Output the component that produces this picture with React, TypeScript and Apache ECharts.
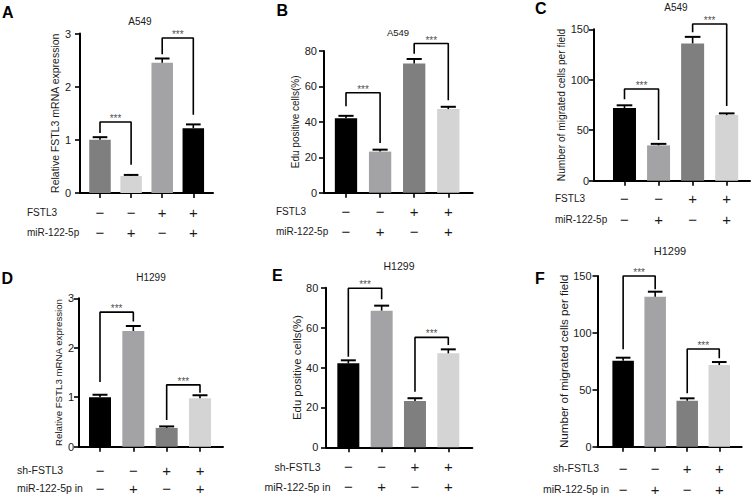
import React, { useEffect, useRef } from "react";
import * as echarts from "echarts";

// ---------- DATA ----------
const rowTopA = ["−", "−", "+", "+"];
const rowBottomA = ["−", "+", "−", "+"];
const rowNamesABC = ["FSTL3", "miR-122-5p"];
const rowNamesDEF = ["sh-FSTL3", "miR-122-5p in"];

const titlesTop = ["A549", "A549", "A549"];
const titlesBottom = ["H1299", "H1299", "H1299"];
const panelLetters = ["A", "B", "C", "D", "E", "F"];

const yNameMRNA = "Relative FSTL3 mRNA expression";
const yNameEdu = "Edu positive cells(%)";
const yNameMig = "Number of migrated cells per field";

// y-axis ranges [max, interval]
const yRangeA = [3, 1];
const yRangeB = [80, 20];
const yRangeC = [150, 50];
const yRangeD = [3, 1];
const yRangeE = [80, 20];
const yRangeF = [150, 50];

// bar means
const valuesA = [1.0, 0.32, 2.45, 1.22];
const valuesB = [42, 23.2, 73, 47.2];
const valuesC = [72, 35, 136, 65];
const valuesD = [1.0, 2.34, 0.38, 0.98];
const valuesE = [42.1, 68.5, 23.2, 47.1];
const valuesF = [75.6, 131.8, 40.4, 71.8];

// upper error (SD)
const errorsA = [0.05, 0.02, 0.08, 0.07];
const errorsB = [1.4, 1.1, 2.5, 1.3];
const errorsC = [2.7, 1.5, 6.5, 1.7];
const errorsD = [0.05, 0.1, 0.03, 0.06];
const errorsE = [1.5, 2.5, 1.4, 2.0];
const errorsF = [2.6, 4.4, 2.1, 2.6];

// significance brackets: [fromBar, toBar, top, leftLegEnd, rightLegEnd]
const bracketsA = [[0, 1, 1.335, 1.13, 0.53], [2, 3, 2.915, 2.61, 1.47]];
const bracketsB = [[0, 1, 56.4, 48.8, 28], [2, 3, 84.2, 78.5, 52.2]];
const bracketsC = [[0, 1, 90.8, 80.6, 40.3], [2, 3, 155.2, 147, 74]];
const bracketsD = [[0, 1, 2.72, 1.31, 2.53], [2, 3, 1.25, 0.54, 1.09]];
const bracketsE = [[0, 1, 79.7, 45.4, 74.2], [2, 3, 55.1, 27.9, 51.3]];
const bracketsF = [[0, 1, 150, 85.6, 138.3], [2, 3, 85.9, 46.9, 77.7]];
const sigLabel = "***";

// bar colours
const coloursA = ["#7f7f7f", "#d4d4d4", "#a3a3a5", "#000000"];
const coloursRest = ["#000000", "#a3a3a5", "#7f7f7f", "#d4d4d4"];

// ---------- LAYOUT ----------
const FONT = '"Liberation Sans", Arial, Helvetica, sans-serif';
const INK = "#1a1a1a";

type Panel = {
  values: number[]; errors: number[]; brackets: number[][]; colours: string[];
  yRange: number[]; yName: string; rowNames: string[]; title: string; letter: string;
  grid: { left: number; top: number; width: number; height: number };
  xMin: number; xMax: number; barWidth: number;
  yNameSize: number; yNameGap: number; yLabelMargin: number;
  xLabelMargin: number; rowLineHeight: number;
  rowLabelX: number; rowLabelAlign: string; rowLabelY: number[]; rowLabelSize: number;
  titlePos: number[]; titleSize: number; letterPos: number[];
};

const panels: Panel[] = [
  {
    values: valuesA, errors: errorsA, brackets: bracketsA, colours: coloursA, yRange: yRangeA,
    yName: yNameMRNA, rowNames: rowNamesABC, title: titlesTop[0], letter: panelLetters[0],
    grid: { left: 80, top: 33.5, width: 133, height: 159.5 }, xMin: -0.643, xMax: 3.633, barWidth: 21.5,
    yNameSize: 10.5, yNameGap: 18, yLabelMargin: 9, xLabelMargin: 9, rowLineHeight: 20,
    rowLabelX: 27, rowLabelAlign: "left", rowLabelY: [212, 232], rowLabelSize: 10,
    titlePos: [140, 21], titleSize: 10, letterPos: [2, 12.5],
  },
  {
    values: valuesB, errors: errorsB, brackets: bracketsB, colours: coloursRest, yRange: yRangeB,
    yName: yNameEdu, rowNames: rowNamesABC, title: titlesTop[1], letter: panelLetters[1],
    grid: { left: 324, top: 51, width: 148.7, height: 141.7 }, xMin: -0.645, xMax: 3.716, barWidth: 22.3,
    yNameSize: 10, yNameGap: 21, yLabelMargin: 7, xLabelMargin: 9, rowLineHeight: 20,
    rowLabelX: 276, rowLabelAlign: "left", rowLabelY: [211.7, 231.7], rowLabelSize: 10,
    titlePos: [398, 32], titleSize: 9.5, letterPos: [276.5, 10],
  },
  {
    values: valuesC, errors: errorsC, brackets: bracketsC, colours: coloursRest, yRange: yRangeC,
    yName: yNameMig, rowNames: rowNamesABC, title: titlesTop[2], letter: panelLetters[2],
    grid: { left: 594, top: 29.3, width: 156, height: 151.4 }, xMin: -0.895, xMax: 3.684, barWidth: 23,
    yNameSize: 10.2, yNameGap: 21, yLabelMargin: 5, xLabelMargin: 6.8, rowLineHeight: 21,
    rowLabelX: 555, rowLabelAlign: "left", rowLabelY: [198, 219], rowLabelSize: 10,
    titlePos: [676, 7.5], titleSize: 10, letterPos: [535, 8.7],
  },
  {
    values: valuesD, errors: errorsD, brackets: bracketsD, colours: coloursRest, yRange: yRangeD,
    yName: yNameMRNA, rowNames: rowNamesDEF, title: titlesBottom[0], letter: panelLetters[3],
    grid: { left: 79, top: 298.3, width: 144, height: 148.4 }, xMin: -0.63, xMax: 3.69, barWidth: 22,
    yNameSize: 9.7, yNameGap: 15.5, yLabelMargin: 5, xLabelMargin: 14.3, rowLineHeight: 18,
    rowLabelX: 17, rowLabelAlign: "left", rowLabelY: [470, 488], rowLabelSize: 10.5,
    titlePos: [151, 277], titleSize: 10, letterPos: [1.5, 278],
  },
  {
    values: valuesE, errors: errorsE, brackets: bracketsE, colours: coloursRest, yRange: yRangeE,
    yName: yNameEdu, rowNames: rowNamesDEF, title: titlesBottom[1], letter: panelLetters[4],
    grid: { left: 326, top: 287.7, width: 146.3, height: 159.6 }, xMin: -0.67, xMax: 3.72, barWidth: 22,
    yNameSize: 11.3, yNameGap: 24, yLabelMargin: 7.7, xLabelMargin: 9.4, rowLineHeight: 20,
    rowLabelX: 297.5, rowLabelAlign: "center", rowLabelY: [466.7, 486.7], rowLabelSize: 10.5,
    titlePos: [399, 266], titleSize: 10.5, letterPos: [272, 275.5],
  },
  {
    values: valuesF, errors: errorsF, brackets: bracketsF, colours: coloursRest, yRange: yRangeF,
    yName: yNameMig, rowNames: rowNamesDEF, title: titlesBottom[2], letter: panelLetters[5],
    grid: { left: 597.5, top: 276, width: 144.2, height: 170.7 }, xMin: -0.8, xMax: 3.7, barWidth: 21.5,
    yNameSize: 11.6, yNameGap: 28, yLabelMargin: 6, xLabelMargin: 11.1, rowLineHeight: 21,
    rowLabelX: 576, rowLabelAlign: "center", rowLabelY: [468.3, 489.3], rowLabelSize: 10.5,
    titlePos: [670, 250.5], titleSize: 11, letterPos: [535, 278],
  },
];

function buildOption() {
  const grid: any[] = [];
  const xAxis: any[] = [];
  const yAxis: any[] = [];
  const series: any[] = [];
  const graphic: any[] = [];

  panels.forEach((p, i) => {
    grid.push({ ...p.grid, containLabel: false, outerBoundsMode: "none" });
    const positions = p.values.map((_, j) => j);

    xAxis.push({
      type: "value", gridIndex: i, min: p.xMin, max: p.xMax,
      splitLine: { show: false },
      axisLine: { show: true, onZero: false, lineStyle: { color: "#000", width: 2 } },
      axisTick: { show: true, customValues: positions, length: 5, lineStyle: { color: "#000", width: 1.6 } },
      axisLabel: {
        show: true, customValues: positions, margin: p.xLabelMargin, color: INK,
        formatter: (v: number) => {
          const k = Math.round(v);
          return `{s|${rowTopA[k]}}\n{s|${rowBottomA[k]}}`;
        },
        rich: { s: { fontSize: 15, lineHeight: p.rowLineHeight, color: INK, fontFamily: FONT } },
      },
    });

    yAxis.push({
      type: "value", gridIndex: i, min: 0, max: p.yRange[0], interval: p.yRange[1],
      name: p.yName, nameLocation: "middle", nameGap: p.yNameGap, nameRotate: 90,
      nameTextStyle: { fontSize: p.yNameSize, color: INK, fontFamily: FONT },
      splitLine: { show: false },
      axisLine: { show: true, onZero: false, lineStyle: { color: "#000", width: 2 } },
      axisTick: { show: true, length: 5, lineStyle: { color: "#000", width: 1.6 } },
      axisLabel: { fontSize: 11, color: INK, fontFamily: FONT, margin: p.yLabelMargin },
    });

    series.push({
      type: "bar", xAxisIndex: i, yAxisIndex: i, barWidth: p.barWidth,
      data: p.values.map((v, j) => ({ value: [j, v], itemStyle: { color: p.colours[j] } })),
      silent: true, z: 2,
    });

    series.push({
      type: "custom", xAxisIndex: i, yAxisIndex: i, clip: false, silent: true, z: 3,
      encode: { x: 0, y: 1 },
      data: p.values.map((v, j) => [j, v, p.errors[j]]),
      renderItem: (_params: any, api: any) => {
        const x = api.value(0);
        const y = api.value(1);
        const e = api.value(2);
        const base = api.coord([x, y]);
        const top = api.coord([x, y + e]);
        const half = p.barWidth * 0.34;
        return {
          type: "group",
          children: [
            { type: "line", shape: { x1: base[0], y1: base[1], x2: top[0], y2: top[1] }, style: { stroke: "#000", lineWidth: 1.6 } },
            { type: "line", shape: { x1: top[0] - half, y1: top[1], x2: top[0] + half, y2: top[1] }, style: { stroke: "#000", lineWidth: 2 } },
          ],
        };
      },
    });

    p.brackets.forEach((b) => {
      series.push({
        type: "line", xAxisIndex: i, yAxisIndex: i, clip: false, silent: true, z: 4,
        symbol: "none", lineStyle: { color: "#000", width: 1.6 },
        data: [[b[0], b[3]], [b[0], b[2]], [b[1], b[2]], [b[1], b[4]]],
      });
    });

    series.push({
      type: "scatter", xAxisIndex: i, yAxisIndex: i, clip: false, silent: true, z: 5,
      symbolSize: 1, itemStyle: { color: "transparent" },
      label: {
        show: true, position: "inside", offset: [0, -3.5], formatter: sigLabel,
        fontSize: 10, color: INK, fontFamily: FONT, textBorderWidth: 0, textBorderColor: "transparent",
      },
      data: p.brackets.map((b) => [(b[0] + b[1]) / 2, b[2]]),
    });

    graphic.push({
      type: "text", x: p.letterPos[0], y: p.letterPos[1],
      style: { text: p.letter, fontSize: 16, fontWeight: "bold", fontFamily: FONT, fill: "#000", textAlign: "left", textVerticalAlign: "middle" },
    });
    graphic.push({
      type: "text", x: p.titlePos[0], y: p.titlePos[1],
      style: { text: p.title, fontSize: p.titleSize, fontFamily: FONT, fill: INK, textAlign: "center", textVerticalAlign: "middle" },
    });
    p.rowNames.forEach((n, r) => {
      graphic.push({
        type: "text", x: p.rowLabelX, y: p.rowLabelY[r],
        style: { text: n, fontSize: p.rowLabelSize, fontFamily: FONT, fill: INK, textAlign: p.rowLabelAlign, textVerticalAlign: "middle" },
      });
    });
  });

  return {
    animation: false,
    backgroundColor: "#ffffff",
    textStyle: { fontFamily: FONT },
    grid, xAxis, yAxis, series, graphic,
  };
}

export default function App() {
  const ref = useRef<HTMLDivElement>(null);
  useEffect(() => {
    if (!ref.current) return;
    const chart = echarts.init(ref.current, undefined, { renderer: "svg" });
    chart.setOption(buildOption() as any);
    return () => chart.dispose();
  }, []);
  return (
    <div
      ref={ref}
      style={{ position: "fixed", left: 0, top: 0, width: 752, height: 497, background: "#fff" }}
    />
  );
}
